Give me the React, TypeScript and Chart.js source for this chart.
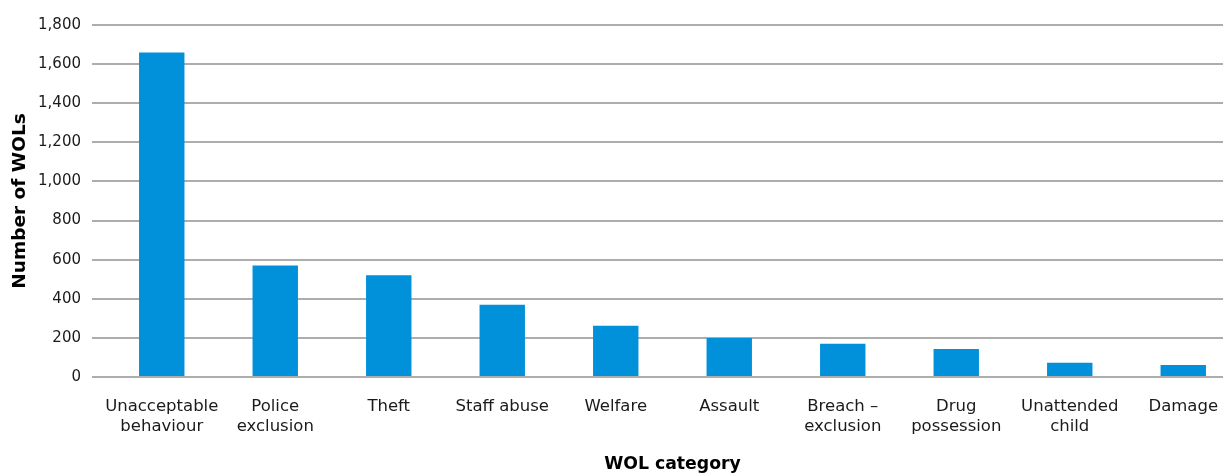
import React, { useEffect, useRef } from "react";
import { Chart, registerables } from "chart.js";

Chart.register(...registerables);

const categories: (string | string[])[] = [
  ["Unacceptable", "behaviour"],
  ["Police", "exclusion"],
  "Theft",
  "Staff abuse",
  "Welfare",
  "Assault",
  ["Breach –", "exclusion"],
  ["Drug", "possession"],
  ["Unattended", "child"],
  "Damage",
];

const wolCounts: number[] = [1660, 570, 520, 370, 262, 200, 170, 143, 73, 62];

const yTickMax = 1800;
const yTickStep = 200;

export default function App() {
  const canvasRef = useRef<HTMLCanvasElement | null>(null);

  useEffect(() => {
    document.body.style.margin = "0";
    const canvas = canvasRef.current;
    if (!canvas) return;
    const chart = new Chart(canvas, {
      type: "bar",
      data: {
        labels: categories,
        datasets: [
          {
            label: "Number of WOLs",
            data: wolCounts,
            backgroundColor: "#0091DA",
            borderWidth: 0,
            barPercentage: 0.4,
            categoryPercentage: 1.0,
          },
        ],
      },
      options: {
        animation: false,
        responsive: false,
        maintainAspectRatio: false,
        layout: { padding: { top: 25, right: 0, left: 0, bottom: 0 } },
        plugins: {
          legend: { display: false },
          tooltip: { enabled: false },
        },
        scales: {
          x: {
            grid: { display: false },
            border: { display: false },
            ticks: {
              color: "#1a1a1a",
              font: { family: "DejaVu Sans", size: 16.5, lineHeight: 1.25 },
              padding: 11,
              maxRotation: 0,
              autoSkip: false,
            },
            title: {
              display: true,
              text: "WOL category",
              color: "#000",
              font: { family: "DejaVu Sans", size: 17.3, weight: "bold", lineHeight: 1.2 },
              padding: { top: 0, bottom: 0 },
            },
            afterFit: (scale: any) => {
              scale.height = 98;
            },
          },
          y: {
            min: 0,
            max: yTickMax,
            grid: {
              color: "#ADADAD",
              lineWidth: 2,
              drawTicks: true,
              tickLength: 13,
              tickColor: "#ADADAD",
              tickWidth: 2,
            },
            border: { display: false },
            ticks: {
              stepSize: yTickStep,
              color: "#1a1a1a",
              font: { family: "DejaVu Sans", size: 15 },
              padding: 11,
              callback: (v: any) => Number(v).toLocaleString("en-US"),
            },
            title: {
              display: true,
              text: "Number of WOLs",
              color: "#000",
              font: { family: "DejaVu Sans", size: 18.5, weight: "bold", lineHeight: 1.2 },
              padding: { top: 9, bottom: 0 },
            },
            afterFit: (scale: any) => {
              scale.width = 105;
            },
          },
        },
      },
    });
    return () => chart.destroy();
  }, []);

  return (
    <div style={{ width: 1223, height: 475, overflow: "hidden" }}>
      <canvas ref={canvasRef} width={1240} height={475} style={{ display: "block" }} />
    </div>
  );
}
